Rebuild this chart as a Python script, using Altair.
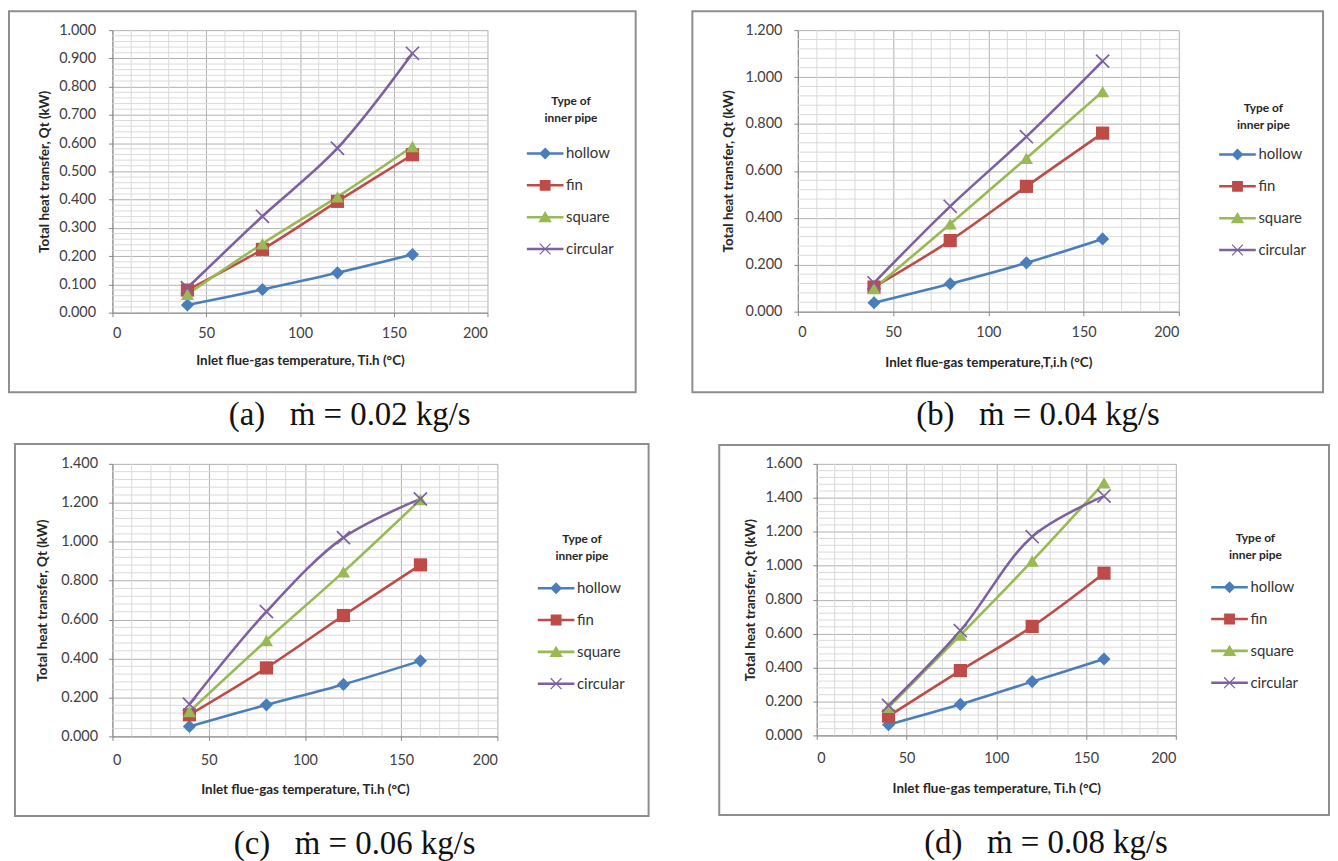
import altair as alt
import pandas as pd

temps = [40, 80, 120, 160]
series = ["hollow", "fin", "square", "circular"]
colors = ["#4A7EBB", "#BE4B48", "#98B954", "#7D60A0"]

a_hollow = [0.027, 0.082, 0.141, 0.206]
a_fin = [0.080, 0.224, 0.394, 0.559]
a_square = [0.065, 0.244, 0.410, 0.588]
a_circular = [0.088, 0.341, 0.582, 0.918]

b_hollow = [0.038, 0.119, 0.208, 0.310]
b_fin = [0.105, 0.303, 0.534, 0.761]
b_square = [0.099, 0.374, 0.654, 0.938]
b_circular = [0.123, 0.449, 0.746, 1.068]

c_hollow = [0.051, 0.162, 0.267, 0.388]
c_fin = [0.111, 0.352, 0.621, 0.881]
c_square = [0.128, 0.493, 0.845, 1.216]
c_circular = [0.165, 0.641, 1.021, 1.220]

d_hollow = [0.063, 0.183, 0.317, 0.450]
d_fin = [0.114, 0.382, 0.642, 0.956]
d_square = [0.166, 0.591, 1.028, 1.488]
d_circular = [0.176, 0.617, 1.171, 1.410]

NB = "\u00a0"
flow_rates = ["0.02", "0.04", "0.06", "0.08"]
letters = ["(a)", "(b)", "(c)", "(d)"]
captions = [f"{l}{NB*3}ṁ = {q} kg/s" for l, q in zip(letters, flow_rates)]
x_titles = ["Inlet flue-gas temperature, Ti.h (°C)",
            "Inlet flue-gas temperature,T,i.h (°C)",
            "Inlet flue-gas temperature, Ti.h (°C)",
            "Inlet flue-gas temperature, Ti.h (°C)"]
y_title = "Total heat transfer, Qt (kW)"
legend_title = ["Type of", "inner pipe"]
y_max = [1.0, 1.2, 1.4, 1.6]
y_label_step = [0.1, 0.2, 0.2, 0.2]
y_minor_step = [0.02, 0.04, 0.04, 0.04]
x_ticks = [0, 50, 100, 150, 200]
x_minor_step = 10

panel_data = [
    [a_hollow, a_fin, a_square, a_circular],
    [b_hollow, b_fin, b_square, b_circular],
    [c_hollow, c_fin, c_square, c_circular],
    [d_hollow, d_fin, d_square, d_circular],
]

# layout (pixels, relative to each plot area)
layout = [
    dict(w=377, h=284, frame=(-104, 526, -19, 364), lx=419, ly=66, ltp=13,
         ylp=13, ytp=7, xlp=10, xtp=14, cap=6),
    dict(w=383, h=283, frame=(-106, 528, -19, 364), lx=426, ly=73, ltp=7,
         ylp=12, ytp=10, xlp=10, xtp=17, cap=6),
    dict(w=387, h=274, frame=(-98, 539, -20, 354), lx=430, ly=71, ltp=9,
         ylp=11, ytp=11, xlp=13, xtp=16, cap=11),
    dict(w=361, h=273, frame=(-98, 515, -19, 353), lx=399, ly=70, ltp=9,
         ylp=11, ytp=7, xlp=12, xtp=17, cap=11),
]

X_PATH = ("M-0.91,-1.09L1.09,0.91L0.91,1.09L-1.09,-0.91Z"
          "M0.91,-1.09L1.09,-0.91L-0.91,1.09L-1.09,0.91Z")
marker_shapes = ["diamond", "square", "triangle-up", X_PATH]

LINE = "M-1.15,-0.08H1.15V0.08H-1.15Z"
legend_shapes = [
    LINE + "M-0.375,0L0,-0.375L0.375,0L0,0.375Z",
    LINE + "M-0.34,-0.34H0.34V0.34H-0.34Z",
    LINE + "M0,-0.38L0.42,0.32L-0.42,0.32Z",
    LINE + "M-0.313,-0.367L0.367,0.313L0.313,0.367L-0.367,-0.313Z"
           "M0.313,-0.367L0.367,-0.313L-0.313,0.367L-0.367,0.313Z",
]

AXIS_STYLE = dict(
    domainColor="#868686", tickColor="#868686", gridColor="#b0b0b0",
    labelColor="#404040", titleColor="#262626", labelFont="Lato",
    titleFont="Lato", labelFontSize=14.5, titleFontSize=13.5,
    titleFontWeight="bold", tickSize=4,
)


def make_panel(i):
    L = layout[i]
    rows = []
    for s, vals in zip(series, panel_data[i]):
        for t, v in zip(temps, vals):
            rows.append({"temp": t, "Qt": v, "series": s})
    df = pd.DataFrame(rows)

    ymax = y_max[i]
    n_minor = int(round(ymax / y_minor_step[i]))
    ratio = int(round(y_label_step[i] / y_minor_step[i]))
    y_minor = [round(k * y_minor_step[i], 4) for k in range(1, n_minor) if k % ratio]
    n_lab = int(round(ymax / y_label_step[i]))
    y_labels = [round(k * y_label_step[i], 4) for k in range(0, n_lab + 1)]
    x_minor = [k for k in range(x_minor_step, 200, x_minor_step) if k % 50]

    xscale = alt.Scale(domain=[0, 200], nice=False, zero=True)
    yscale = alt.Scale(domain=[0, ymax], nice=False, zero=True)
    cscale = alt.Scale(domain=series, range=colors)

    xaxis = alt.Axis(values=x_ticks, format="d", title=x_titles[i], grid=True,
                     labelPadding=L["xlp"], titlePadding=L["xtp"], **AXIS_STYLE)
    yaxis = alt.Axis(values=y_labels, format=".3f", title=y_title, grid=True,
                     labelPadding=L["ylp"], titlePadding=L["ytp"], **AXIS_STYLE)

    fl, fr, ft, fb = L["frame"]
    frame = alt.Chart(alt.Data(values=[{}])).mark_rect(
        fillOpacity=0, stroke="#8e8e8e", strokeWidth=2, clip=False
    ).encode(x=alt.value(fl), x2=alt.value(fr), y=alt.value(ft), y2=alt.value(fb))

    ygrid = alt.Chart(pd.DataFrame({"Qt": y_minor})).mark_rule(
        color="#dadada", strokeWidth=1
    ).encode(y=alt.Y("Qt:Q", scale=yscale, axis=yaxis))
    xgrid = alt.Chart(pd.DataFrame({"temp": x_minor})).mark_rule(
        color="#dadada", strokeWidth=1
    ).encode(x=alt.X("temp:Q", scale=xscale, axis=xaxis))

    lines = alt.Chart(df).mark_line(interpolate="catmull-rom", strokeWidth=2.6).encode(
        x=alt.X("temp:Q", scale=xscale, axis=xaxis),
        y=alt.Y("Qt:Q", scale=yscale, axis=yaxis),
        color=alt.Color("series:N", scale=cscale, legend=None),
    )
    points = alt.Chart(df).mark_point(filled=True, size=175, opacity=1).encode(
        x=alt.X("temp:Q", scale=xscale, axis=xaxis),
        y=alt.Y("Qt:Q", scale=yscale, axis=yaxis),
        color=alt.Color("series:N", scale=cscale, legend=None),
        shape=alt.Shape("series:N", scale=alt.Scale(domain=series, range=marker_shapes),
                        legend=None),
    )
    leg = alt.Legend(
        title=legend_title, orient="none", legendX=L["lx"], legendY=L["ly"],
        padding=0, titleFont="Lato", titleFontSize=12, titleFontWeight="bold",
        titleColor="#262626", titleAnchor="middle", titleAlign="center",
        titleLineHeight=17, titlePadding=L["ltp"], labelFont="Lato",
        labelFontSize=15, labelColor="#333333", labelOffset=5,
        symbolSize=1024, symbolStrokeWidth=0, symbolOpacity=1, rowPadding=8,
        direction="vertical", labelLimit=200,
    )
    legend_layer = alt.Chart(df).transform_filter("false").mark_point(
        filled=True, size=1024, opacity=1
    ).encode(
        color=alt.Color("series:N", scale=cscale, legend=leg),
        shape=alt.Shape("series:N", scale=alt.Scale(domain=series, range=legend_shapes),
                        legend=leg),
    )

    return alt.layer(frame, ygrid, xgrid, lines, points, legend_layer).resolve_scale(
        color="independent", shape="independent"
    ).properties(
        width=L["w"], height=L["h"],
        title=alt.TitleParams(
            text=captions[i], orient="bottom", anchor="middle", frame="group",
            dx=50, offset=L["cap"], font="Liberation Serif", fontSize=33,
            fontWeight="normal", color="#111111",
        ),
    )


pa, pb, pc, pd_ = [make_panel(i) for i in range(4)]
row1 = alt.hconcat(pa, pb, spacing=55).resolve_scale(color="independent", shape="independent")
row2 = alt.hconcat(pc, pd_, spacing=69).resolve_scale(color="independent", shape="independent")
chart = alt.vconcat(row1, row2, spacing=11).resolve_scale(
    color="independent", shape="independent"
).properties(padding=0).configure(font="Lato").configure_view(stroke=None)

chart.save("out.html", embed_options={"renderer": "svg", "actions": False})
